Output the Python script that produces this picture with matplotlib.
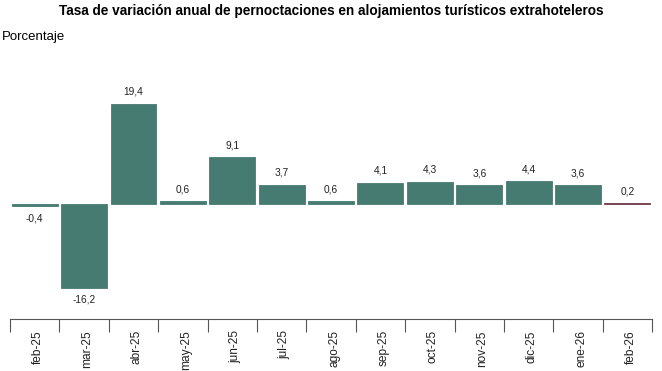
import matplotlib.pyplot as plt

plt.rcParams['font.family'] = ['Liberation Sans', 'DejaVu Sans']

# datos
meses = ["feb-25", "mar-25", "abr-25", "may-25", "jun-25", "jul-25", "ago-25",
         "sep-25", "oct-25", "nov-25", "dic-25", "ene-26", "feb-26"]
valores = [-0.4, -16.2, 19.4, 0.6, 9.1, 3.7, 0.6, 4.1, 4.3, 3.6, 4.4, 3.6, 0.2]

color_base = "#467b71"
color_ultimo = "#6e3a48"
colores = [color_base] * (len(valores) - 1) + [color_ultimo]

fig = plt.figure(figsize=(6.62, 3.71), dpi=100)
ax = fig.add_axes([0.0151, 0.140, 0.970, 0.698])

x = list(range(len(meses)))
ax.bar(x, valores, width=0.93, color=colores, edgecolor=colores, linewidth=0.6)

# etiquetas de valor
for xi, v in zip(x, valores):
    txt = f"{v:.1f}".replace(".", ",")
    if v >= 0:
        ax.annotate(txt, (xi, v), xytext=(0, 5), textcoords="offset points",
                    ha="center", va="bottom", fontsize=7.3, color="#222222")
    else:
        ax.annotate(txt, (xi, v), xytext=(0, -5), textcoords="offset points",
                    ha="center", va="top", fontsize=7.3, color="#222222")

ax.set_xlim(-0.5, len(meses) - 0.5)
ax.set_ylim(-22.2, 27.8)

for s in ["top", "right", "left"]:
    ax.spines[s].set_visible(False)
ax.spines["bottom"].set_color("#555555")
ax.spines["bottom"].set_linewidth(0.8)
ax.set_yticks([])

# marcas en los bordes de cada categoria, etiquetas en el centro
ax.set_xticks([i - 0.5 for i in range(len(meses) + 1)])
ax.set_xticklabels([])
ax.tick_params(axis="x", which="major", length=9, color="#555555", width=0.8)
ax.set_xticks([i + 0.06 for i in x], minor=True)
ax.set_xticklabels(meses, minor=True, rotation=90, fontsize=8.6, color="#222222")
ax.tick_params(axis="x", which="minor", length=0, pad=8)

fig.text(0.5, 0.988, "Tasa de variación anual de pernoctaciones en alojamientos turísticos extrahoteleros",
         ha="center", va="top", fontsize=9.85, fontweight="bold")
fig.text(0.003, 0.90, "Porcentaje", ha="left", va="center", fontsize=9.5)

fig.savefig("out.png", dpi=100)
